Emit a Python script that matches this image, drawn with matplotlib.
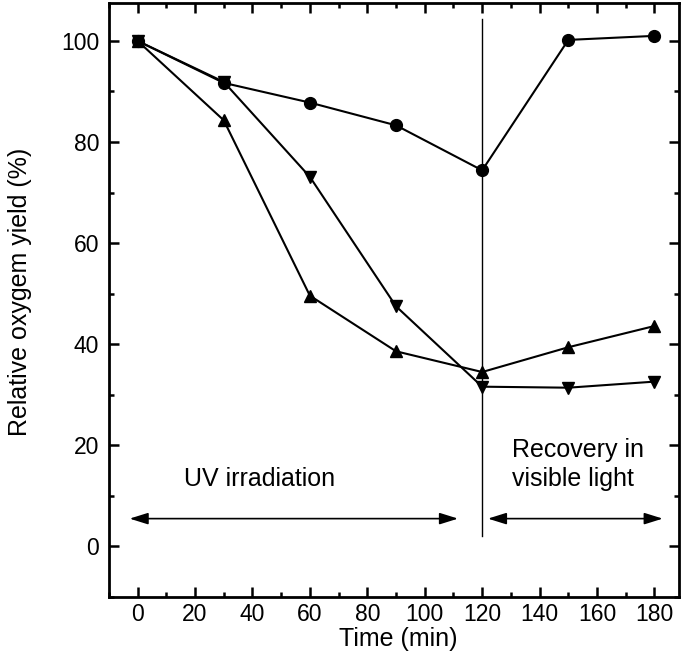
import matplotlib.pyplot as plt
from matplotlib.ticker import MultipleLocator

plt.rcParams['font.family'] = ['Liberation Sans', 'DejaVu Sans']

# data
time = [0, 30, 60, 90, 120, 150, 180]
yield_circle = [100, 91.7, 87.8, 83.3, 74.4, 100.2, 101.0]
yield_up = [100, 84.3, 49.6, 38.6, 34.5, 39.4, 43.6]
yield_down = [100, 91.9, 73.1, 47.5, 31.6, 31.4, 32.6]

fig = plt.figure(figsize=(6.85, 6.54), dpi=100)
ax = fig.add_axes([0.159, 0.0872, 0.832, 0.9082])

ax.plot(time, yield_circle, '-o', color='black', lw=1.5, ms=8.5)
ax.plot(time, yield_up, '-^', color='black', lw=1.5, ms=8.5)
ax.plot(time, yield_down, '-v', color='black', lw=1.5, ms=8.5)

# separation between UV and recovery
ax.plot([120, 120], [2, 104.4], color='black', lw=1)

arrow = dict(arrowstyle='<|-|>,head_length=0.8,head_width=0.25', color='black',
             lw=1.2, mutation_scale=14, shrinkA=0, shrinkB=0)
ax.annotate('', xy=(-2.8, 5.5), xytext=(111.6, 5.5), arrowprops=arrow)
ax.annotate('', xy=(122, 5.5), xytext=(182.9, 5.5), arrowprops=arrow)

ax.text(42.4, 11.9, 'UV irradiation', ha='center', va='baseline', fontsize=18)
ax.text(130.4, 11.9, 'Recovery in\nvisible light', ha='left', va='baseline',
        fontsize=18, linespacing=1.3)

ax.set_xlim(-10, 188.5)
ax.set_ylim(-10, 107.5)
ax.xaxis.set_major_locator(MultipleLocator(20))
ax.xaxis.set_minor_locator(MultipleLocator(10))
ax.yaxis.set_major_locator(MultipleLocator(20))
ax.yaxis.set_minor_locator(MultipleLocator(10))
ax.tick_params(which='both', direction='in', top=True, right=True, width=1.8)
ax.tick_params(which='major', length=7, labelsize=16.5)
ax.tick_params(which='minor', length=3.5)
ax.tick_params(axis='x', which='major', pad=4)
ax.tick_params(axis='y', which='major', pad=7)
for s in ax.spines.values():
    s.set_linewidth(2)

ax.set_xlabel('Time (min)', fontsize=18)
ax.set_ylabel('Relative oxygem yield (%)', fontsize=18)
ax.xaxis.set_label_coords(0.507, -0.051)
ax.yaxis.set_label_coords(-0.135, 0.514)

plt.savefig('out.png', dpi=100)
